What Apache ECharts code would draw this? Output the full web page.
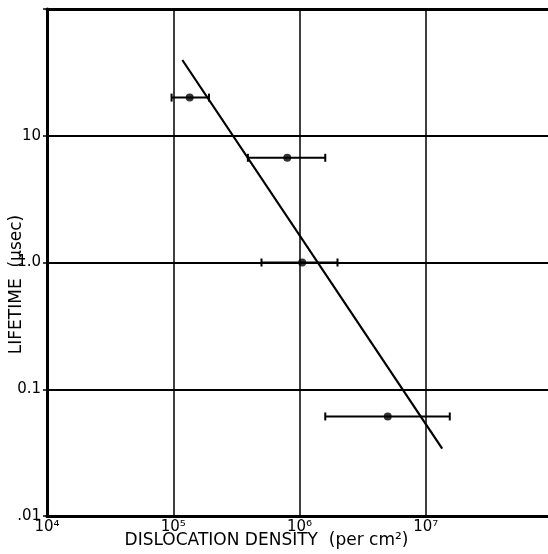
<!DOCTYPE html>
<html>
<head>
<meta charset="utf-8">
<script src="https://cdn.jsdelivr.net/npm/echarts@6/dist/echarts.min.js"></script>
<style>html,body{margin:0;padding:0;background:#fff}#c{width:548px;height:554px}</style>
</head>
<body>
<div id="c"></div>
<script>
// Data
const densities   = [1.35e5, 8.0e5, 1.05e6, 5.0e6];   // per cm^2
const lifetimes   = [20, 6.7, 1.0, 0.061];            // usec
const densityLow  = [0.97e5, 3.9e5, 5.0e5, 1.6e6];
const densityHigh = [1.92e5, 1.6e6, 2.0e6, 1.55e7];
const fitDensity  = [1.18e5, 1.35e7];
const fitLifetime = [39.6, 0.034];
const yTickLabels = {'-2': '.01', '-1': '0.1', '0': '1.0', '1': '10', '2': ''};
const xTickLabels = {'4': '10⁴', '5': '10⁵', '6': '10⁶', '7': '10⁷', '8': ''};

const FONT = 'DejaVu Sans';
const chart = echarts.init(document.getElementById('c'));
const pts = densities.map((d, i) => [d, lifetimes[i]]);
const bars = densities.map((d, i) => [densityLow[i], densityHigh[i], lifetimes[i]]);
const fit = fitDensity.map((d, i) => [d, fitLifetime[i]]);

chart.setOption({
  animation: false,
  backgroundColor: '#fff',
  grid: {left: 47, right: -4, top: 9, bottom: 38, containLabel: false, outerBoundsMode: 'none'},
  xAxis: [{
    type: 'log', logBase: 10, min: 1e4, max: 1e8,
    axisLine: {lineStyle: {color: '#000', width: 3}},
    axisTick: {show: false},
    splitLine: {show: true, lineStyle: {color: '#000', width: 1.5}},
    minorSplitLine: {show: false},
    axisLabel: {
      margin: 4, fontFamily: FONT, fontSize: 15, color: '#000',
      formatter: v => xTickLabels[String(Math.round(Math.log10(v)))]
    },
    name: 'DISLOCATION DENSITY  (per cm²)',
    nameLocation: 'middle', nameGap: 16, nameMoveOverlap: false,
    nameTextStyle: {fontFamily: FONT, fontSize: 17, color: '#000', padding: [0, 66, 0, 0]}
  }, {
    type: 'log', logBase: 10, min: 1e4, max: 1e8, position: 'top',
    axisLine: {show: true, lineStyle: {color: '#000', width: 3}},
    axisTick: {show: false}, axisLabel: {show: false}, splitLine: {show: false}
  }],
  yAxis: {
    type: 'log', logBase: 10, min: 0.01, max: 100,
    axisLine: {show: true, lineStyle: {color: '#000', width: 3}},
    axisTick: {show: true, length: 4, lineStyle: {color: '#000', width: 1.5}},
    splitLine: {show: true, lineStyle: {color: '#000', width: 2}},
    axisLabel: {
      margin: 6, fontFamily: FONT, fontSize: 15, color: '#000',
      formatter: v => yTickLabels[String(Math.round(Math.log10(v)))]
    },
    name: 'LIFETIME  (μsec)',
    nameLocation: 'middle', nameGap: 22, nameMoveOverlap: false,
    nameTextStyle: {fontFamily: FONT, fontSize: 17, color: '#000', padding: [0, 44, 0, 0]}
  },
  series: [{
    type: 'custom',
    data: bars,
    renderItem: (params, api) => {
      const a = api.coord([api.value(0), api.value(2)]);
      const b = api.coord([api.value(1), api.value(2)]);
      const st = {stroke: '#000', lineWidth: 2};
      return {type: 'group', children: [
        {type: 'line', shape: {x1: a[0], y1: a[1], x2: b[0], y2: b[1]}, style: st},
        {type: 'line', shape: {x1: a[0], y1: a[1] - 4, x2: a[0], y2: a[1] + 4}, style: st},
        {type: 'line', shape: {x1: b[0], y1: b[1] - 4, x2: b[0], y2: b[1] + 4}, style: st}
      ]};
    },
    encode: {x: [0, 1], y: 2},
    z: 3
  }, {
    type: 'line', data: fit, symbol: 'none',
    lineStyle: {color: '#000', width: 2.2}, z: 4
  }, {
    type: 'scatter', data: pts, symbol: 'circle', symbolSize: 8,
    itemStyle: {color: '#000'}, z: 5
  }]
});
</script>
</body>
</html>
